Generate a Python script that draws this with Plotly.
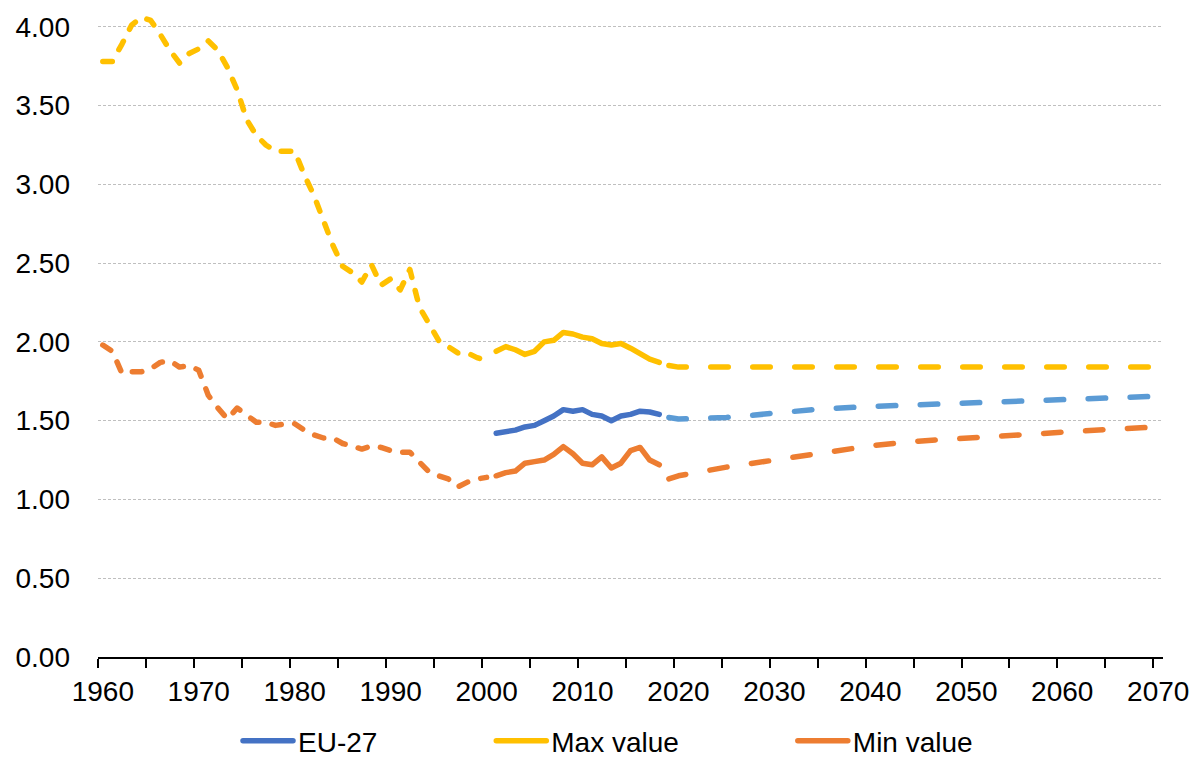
import plotly.graph_objects as go

# Colours (Excel office palette)
BLUE = "#4472C4"
LIGHT_BLUE = "#5B9BD5"
YELLOW = "#FFC000"
ORANGE = "#ED7D31"
FONT = "Liberation Sans, Arial, sans-serif"

# Years
years_early = list(range(1960, 2001))
years_recent = list(range(2001, 2019))
years_proj = [2019, 2020, 2025, 2030, 2035, 2040, 2045, 2050, 2055, 2060, 2065, 2070]

# Max value
max_early = [3.78, 3.78, 3.89, 4.01, 4.06, 4.04, 3.95, 3.85, 3.77, 3.83, 3.86,
             3.91, 3.85, 3.74, 3.60, 3.41, 3.31, 3.25, 3.21, 3.21, 3.21,
             3.06, 2.93, 2.77, 2.61, 2.48, 2.44, 2.38, 2.49, 2.36, 2.40,
             2.33, 2.46, 2.22, 2.11, 2.01, 1.97, 1.93, 1.93, 1.90, 1.88]
max_recent = [1.94, 1.97, 1.95, 1.92, 1.94, 2.00, 2.01, 2.06, 2.05, 2.03,
              2.02, 1.99, 1.98, 1.99, 1.96, 1.92, 1.89, 1.87]
max_proj = [1.85, 1.84, 1.84, 1.84, 1.84, 1.84, 1.84, 1.84, 1.84, 1.84, 1.84, 1.84]

# EU-27
eu_recent = [1.42, 1.43, 1.44, 1.46, 1.47, 1.50, 1.53, 1.57, 1.56, 1.57,
             1.54, 1.53, 1.50, 1.53, 1.54, 1.56, 1.555, 1.54]
eu_proj = [1.52, 1.51, 1.52, 1.55, 1.575, 1.59, 1.60, 1.61, 1.62, 1.63, 1.645, 1.655]

# Min value
min_early = [1.98, 1.94, 1.80, 1.81, 1.81, 1.83, 1.87, 1.88, 1.84, 1.85, 1.82,
             1.66, 1.58, 1.51, 1.58, 1.53, 1.49, 1.49, 1.47, 1.48, 1.48,
             1.44, 1.41, 1.39, 1.39, 1.355, 1.335, 1.32, 1.34, 1.33, 1.31,
             1.30, 1.30, 1.24, 1.175, 1.15, 1.13, 1.08, 1.11, 1.13, 1.14]
min_recent = [1.15, 1.17, 1.18, 1.23, 1.24, 1.25, 1.286, 1.335, 1.29, 1.23,
              1.22, 1.27, 1.20, 1.23, 1.31, 1.33, 1.25, 1.22]
min_proj = [1.13, 1.15, 1.205, 1.25, 1.30, 1.34, 1.37, 1.39, 1.41, 1.43, 1.445, 1.46]

x_labels = list(range(1960, 2071, 10))
x_tick_marks = [1959.5 + 5 * i for i in range(23)]

W = 5.5
DASH_SHORT = "9.5px,13.5px"
DASH_LONG = "17.5px,24.5px"
PAD = "\u00a0" * 14  # extra room after a legend entry

fig = go.Figure()


def add(x, y, color, dash, name, legend):
    fig.add_trace(go.Scatter(
        x=x, y=y, mode="lines", name=name, showlegend=legend,
        line=dict(color=color, width=W, dash=dash),
        hoverinfo="skip",
    ))


add(years_early, max_early, YELLOW, DASH_SHORT, "Max value", False)
add(years_early, min_early, ORANGE, DASH_SHORT, "Min value", False)
add(years_proj, max_proj, YELLOW, DASH_LONG, "Max value", False)
add(years_proj, eu_proj, LIGHT_BLUE, DASH_LONG, "EU-27", False)
add(years_proj, min_proj, ORANGE, DASH_LONG, "Min value", False)
add(years_recent, eu_recent, BLUE, "solid", "EU-27" + PAD, True)
add(years_recent, max_recent, YELLOW, "solid", "Max value" + PAD, True)
add(years_recent, min_recent, ORANGE, "solid", "Min value", True)

fig.update_layout(
    width=1197, height=757,
    paper_bgcolor="white", plot_bgcolor="white",
    margin=dict(l=98, r=34, t=11, b=100, autoexpand=False),
    font=dict(family=FONT, size=28, color="black"),
    showlegend=True,
    legend=dict(orientation="h", xref="container", yref="container",
                x=238 / 1197, xanchor="left", y=1 - 741 / 757, yanchor="middle",
                font=dict(size=28), itemwidth=50,
                bgcolor="rgba(0,0,0,0)"),
)
fig.update_xaxes(
    range=[1959.5, 2070.5], tickmode="array", tickvals=x_labels, automargin=False,
    ticks="outside", ticklen=9, tickcolor="rgba(0,0,0,0)",
    showline=True, linecolor="black", linewidth=1.5,
    showgrid=False, zeroline=False,
    minor=dict(tickmode="array", tickvals=x_tick_marks, ticks="outside",
               ticklen=9, tickwidth=1.5, tickcolor="black", showgrid=False),
)
fig.update_yaxes(
    range=[0, 4.1], tickmode="array", tickvals=[0, 0.5, 1, 1.5, 2, 2.5, 3, 3.5, 4],
    tickformat=".2f", showline=False, zeroline=False, automargin=False,
    showgrid=True, gridcolor="#BFBFBF", griddash="3px,2px", gridwidth=1,
    ticks="", ticklabelstandoff=27,
)

# drop the page margin and round the line ends like the original
post = (
    "document.body.style.margin='0';"
    "setTimeout(function(){document.querySelectorAll('.scatterlayer .js-line, .legendlines path')"
    ".forEach(function(p){p.style.strokeLinecap='round';p.style.strokeLinejoin='round';});},0);"
)
fig.write_html("out.html", post_script=post, config={"displayModeBar": False})
